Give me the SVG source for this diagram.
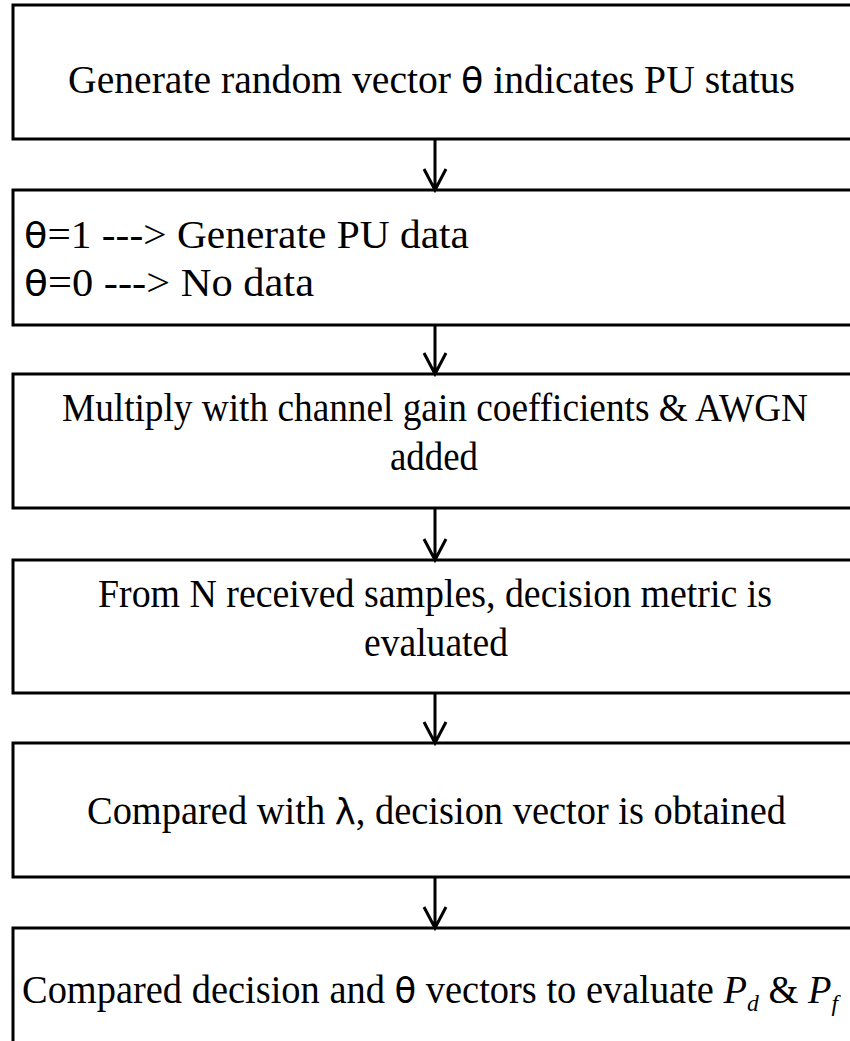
<svg xmlns="http://www.w3.org/2000/svg" width="850" height="1041" viewBox="0 0 850 1041">
  <style>
    .box { fill: #ffffff; stroke: #000000; stroke-width: 3; }
    .lbl { font-family: "Liberation Serif", "Times New Roman", serif; font-size: 39px; fill: #000000; }
    .sym { font-family: "DejaVu Sans", "Liberation Sans", sans-serif; font-size: 36px; }
    .it { font-style: italic; }
    .sub { font-size: 24px; font-style: italic; }
    .wire { fill: none; stroke: #000000; stroke-width: 3; }
  </style>
  <rect width="850" height="1041" fill="#ffffff"/>

  <g id="node-generate">
    <rect class="box" x="13" y="5" width="860" height="134"/>
    <text class="lbl" x="68" y="93" textLength="727" lengthAdjust="spacingAndGlyphs">Generate random vector <tspan class="sym">θ</tspan> indicates PU status</text>
  </g>

  <g id="node-pu-data">
    <rect class="box" x="13" y="190" width="860" height="135"/>
    <text class="lbl" x="24" y="248" textLength="445" lengthAdjust="spacingAndGlyphs"><tspan class="sym">θ</tspan>=1 ---&gt; Generate PU data</text>
    <text class="lbl" x="24" y="296" textLength="290" lengthAdjust="spacingAndGlyphs"><tspan class="sym">θ</tspan>=0 ---&gt; No data</text>
  </g>

  <g id="node-channel">
    <rect class="box" x="13" y="374" width="860" height="134"/>
    <text class="lbl" x="62" y="421" textLength="746" lengthAdjust="spacingAndGlyphs">Multiply with channel gain coefficients &amp; AWGN</text>
    <text class="lbl" x="390" y="470" textLength="88" lengthAdjust="spacingAndGlyphs">added</text>
  </g>

  <g id="node-metric">
    <rect class="box" x="13" y="560" width="860" height="133"/>
    <text class="lbl" x="98" y="607" textLength="674" lengthAdjust="spacingAndGlyphs">From N received samples, decision metric is</text>
    <text class="lbl" x="364" y="656" textLength="144" lengthAdjust="spacingAndGlyphs">evaluated</text>
  </g>

  <g id="node-threshold">
    <rect class="box" x="13" y="743" width="860" height="134"/>
    <text class="lbl" x="87" y="824" textLength="699" lengthAdjust="spacingAndGlyphs">Compared with <tspan class="sym">λ</tspan>, decision vector is obtained</text>
  </g>

  <g id="node-evaluate">
    <rect class="box" x="13" y="928" width="860" height="140"/>
    <text class="lbl" x="22" y="1003" textLength="816" lengthAdjust="spacingAndGlyphs">Compared decision and <tspan class="sym">θ</tspan> vectors to evaluate <tspan class="it">P</tspan><tspan class="sub" dy="8">d</tspan><tspan dy="-8"> &amp; </tspan><tspan class="it">P</tspan><tspan class="sub" dy="8">f</tspan></text>
  </g>

  <g id="connectors">
    <path class="wire" d="M435 139 V190 M424 169 L435 190 L446 169"/>
    <path class="wire" d="M435 325 V374 M424 353 L435 374 L446 353"/>
    <path class="wire" d="M435 508 V560 M424 539 L435 560 L446 539"/>
    <path class="wire" d="M435 693 V743 M424 722 L435 743 L446 722"/>
    <path class="wire" d="M435 877 V928 M424 907 L435 928 L446 907"/>
  </g>
</svg>
